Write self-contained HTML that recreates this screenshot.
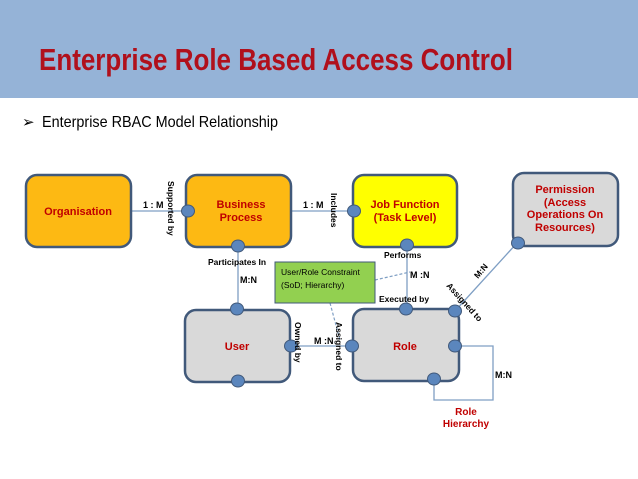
<!DOCTYPE html>
<html><head><meta charset="utf-8"><style>body{margin:0;background:#fff}svg{display:block}</style></head><body>
<svg width="638" height="479" viewBox="0 0 638 479" xmlns="http://www.w3.org/2000/svg" font-family="Liberation Sans, sans-serif">
<rect x="0" y="0" width="638" height="98" fill="#95b3d7"/>
<text x="39" y="70" font-size="31" font-weight="bold" fill="#b0101c" textLength="474" lengthAdjust="spacingAndGlyphs">Enterprise Role Based Access Control</text>
<text x="22" y="127" font-size="15" fill="#000">➢</text>
<text x="42" y="127" font-size="16" fill="#000" textLength="236" lengthAdjust="spacingAndGlyphs">Enterprise RBAC Model Relationship</text>
<g stroke="#7f9fc4" stroke-width="1.3" fill="none">
<line x1="131" y1="211" x2="187" y2="211"/>
<line x1="291" y1="211" x2="353" y2="211"/>
<line x1="238" y1="245" x2="238" y2="308"/>
<line x1="407" y1="244" x2="407" y2="309"/>
<line x1="291" y1="346" x2="352" y2="346"/>
<line x1="517" y1="243" x2="455" y2="311"/>
<polyline points="455,346 493,346 493,400 434,400 434,379"/>
</g>
<g stroke="#7f9fc4" stroke-width="1.2" stroke-dasharray="3,2" fill="none">
<line x1="375" y1="280" x2="410" y2="272"/>
<line x1="330" y1="303" x2="340" y2="340"/>
</g>
<g stroke="#41597a" stroke-width="2.5">
<rect x="26" y="175" width="105" height="72" rx="11" fill="#fdb913"/>
<rect x="186" y="175" width="105" height="72" rx="11" fill="#fdb913"/>
<rect x="353" y="175" width="104" height="72" rx="11" fill="#ffff00"/>
<rect x="513" y="173" width="105" height="73" rx="11" fill="#d9d9d9"/>
<rect x="185" y="310" width="105" height="72" rx="11" fill="#d9d9d9"/>
<rect x="353" y="309" width="106" height="72" rx="11" fill="#d9d9d9"/>
</g>
<rect x="275" y="262" width="100" height="41" fill="#92d050" stroke="#41597a" stroke-width="1"/>
<g fill="#c00000" font-size="11" font-weight="bold" text-anchor="middle">
<text x="78" y="215">Organisation</text>
<text x="241" y="208">Business</text><text x="241" y="221">Process</text>
<text x="405" y="208">Job Function</text><text x="405" y="221">(Task Level)</text>
<text x="565" y="193">Permission</text><text x="565" y="206">(Access</text><text x="565" y="218">Operations On</text><text x="565" y="231">Resources)</text>
<text x="237" y="350">User</text>
<text x="405" y="350">Role</text>
<text x="466" y="415" font-size="10">Role</text><text x="466" y="427" font-size="10">Hierarchy</text>
</g>
<g fill="#5b86bd" stroke="#41597a" stroke-width="1">
<ellipse cx="188" cy="211" rx="6.5" ry="6"/><ellipse cx="238" cy="246" rx="6.5" ry="6"/>
<ellipse cx="354" cy="211" rx="6.5" ry="6"/><ellipse cx="407" cy="245" rx="6.5" ry="6"/>
<ellipse cx="518" cy="243" rx="6.5" ry="6"/>
<ellipse cx="237" cy="309" rx="6.5" ry="6"/><ellipse cx="291" cy="346" rx="6.5" ry="6"/><ellipse cx="238" cy="381" rx="6.5" ry="6"/>
<ellipse cx="406" cy="309" rx="6.5" ry="6"/><ellipse cx="352" cy="346" rx="6.5" ry="6"/><ellipse cx="455" cy="311" rx="6.5" ry="6"/><ellipse cx="455" cy="346" rx="6.5" ry="6"/><ellipse cx="434" cy="379" rx="6.5" ry="6"/>
</g>
<g fill="#000" font-size="9" font-weight="bold">
<text x="143" y="208">1 : M</text>
<text x="303" y="208">1 : M</text>
<text x="208" y="265" font-size="8.5">Participates In</text>
<text x="240" y="283">M:N</text>
<text x="384" y="258" font-size="8.5">Performs</text>
<text x="410" y="278">M :N</text>
<text x="379" y="302" font-size="8.5">Executed by</text>
<text x="314" y="344">M :N</text>
<text x="495" y="378">M:N</text>
<text x="281" y="275" font-size="8.5" font-weight="normal">User/Role Constraint</text>
<text x="281" y="288" font-size="8.5" font-weight="normal">(SoD; Hierarchy)</text>
<text transform="translate(168,181) rotate(90)" font-size="8.5">Supported by</text>
<text transform="translate(331,193) rotate(90)" font-size="8.5">Includes</text>
<text transform="translate(295,322) rotate(90)" font-size="8.5">Owned by</text>
<text transform="translate(336,322) rotate(90)" font-size="8.5">Assigned to</text>
<text transform="translate(478,279) rotate(-50)" font-size="8.5">M:N</text>
<text transform="translate(446,286) rotate(48)" font-size="8.5">Assigned to</text>
</g>
</svg>
</body></html>
